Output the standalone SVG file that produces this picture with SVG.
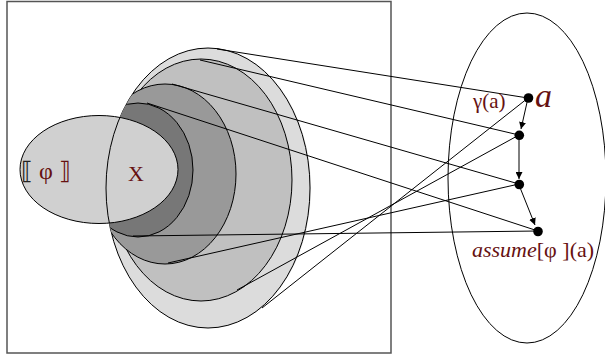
<svg xmlns="http://www.w3.org/2000/svg" width="605" height="358" viewBox="0 0 605 358">
<style>
.o{stroke:#000;stroke-width:1}
.c{fill:none;stroke:#000;stroke-width:1}
.t{font-family:"Liberation Serif","DejaVu Serif",serif;fill:#661111}
</style>
<defs>
<clipPath id="outerClip"><ellipse cx="208" cy="188" rx="102" ry="140"/></clipPath>
<clipPath id="leftClip"><ellipse cx="99" cy="169.5" rx="79" ry="54"/></clipPath>
<marker id="ah" viewBox="0 0 10 10" refX="10" refY="5" markerWidth="7" markerHeight="7" markerUnits="userSpaceOnUse" orient="auto"><path d="M0,0 L10,5 L0,10 z" fill="#000"/></marker>
</defs>
<rect id="frame" x="7" y="1.5" width="384" height="351.5" fill="#fff" stroke="#555" stroke-width="1.5"/>
<g id="nested">
<ellipse cx="209" cy="188" rx="102" ry="140" fill="#c8c8c8" opacity="0.5"/>
<ellipse class="o" cx="208" cy="188" rx="102" ry="140" fill="#dcdcdc"/>
<g clip-path="url(#outerClip)">
<ellipse class="o" cx="201" cy="180" rx="91" ry="121" fill="#c0c0c0"/>
<ellipse class="o" cx="165" cy="174" rx="71" ry="90" fill="#999999"/>
<ellipse class="o" cx="138" cy="170" rx="55" ry="67" fill="#777777"/>
</g>
</g>
<g id="phi">
<ellipse class="o" cx="99" cy="169.5" rx="79" ry="54" fill="#d0d0d0"/>
<ellipse class="c" cx="208" cy="188" rx="102" ry="140" clip-path="url(#leftClip)"/>
<text class="t" x="21" y="179" font-size="24"><tspan fill="#222">⟦</tspan> φ ⟧</text>
<text class="t" x="128" y="181" font-size="22">X</text>
</g>
<g id="connectors" class="c">
<line x1="217" y1="49" x2="528" y2="98"/>
<line x1="200" y1="60" x2="519" y2="135"/>
<line x1="172" y1="84" x2="519" y2="184"/>
<line x1="147" y1="103" x2="538" y2="231"/>
<line x1="133" y1="236" x2="538" y2="231"/>
<line x1="168" y1="263" x2="519" y2="184"/>
<line x1="237" y1="290" x2="519" y2="135"/>
<line x1="262" y1="308" x2="528" y2="98"/>
<line x1="528" y1="98" x2="521" y2="129" marker-end="url(#ah)"/>
<line x1="519" y1="135" x2="519" y2="179" marker-end="url(#ah)"/>
<line x1="519" y1="185" x2="535" y2="225" marker-end="url(#ah)"/>
</g>
<g id="space">
<ellipse class="c" cx="527" cy="178" rx="79" ry="165"/>
</g>
<g id="a"><circle cx="528.5" cy="98" r="4.8" fill="#000"/><text class="t" x="535" y="107" font-size="34" font-style="italic">a</text></g>
<g id="n2"><circle cx="519.3" cy="135.3" r="4.8" fill="#000"/></g>
<g id="n3"><circle cx="519.3" cy="184.5" r="4.8" fill="#000"/></g>
<g id="n4"><circle cx="538" cy="231.5" r="4.8" fill="#000"/></g>
<text class="t" x="473" y="108" font-size="21">γ(a)</text>
<text class="t" x="472" y="257" font-size="22"><tspan font-style="italic">assume</tspan>[φ ](a)</text>
</svg>
